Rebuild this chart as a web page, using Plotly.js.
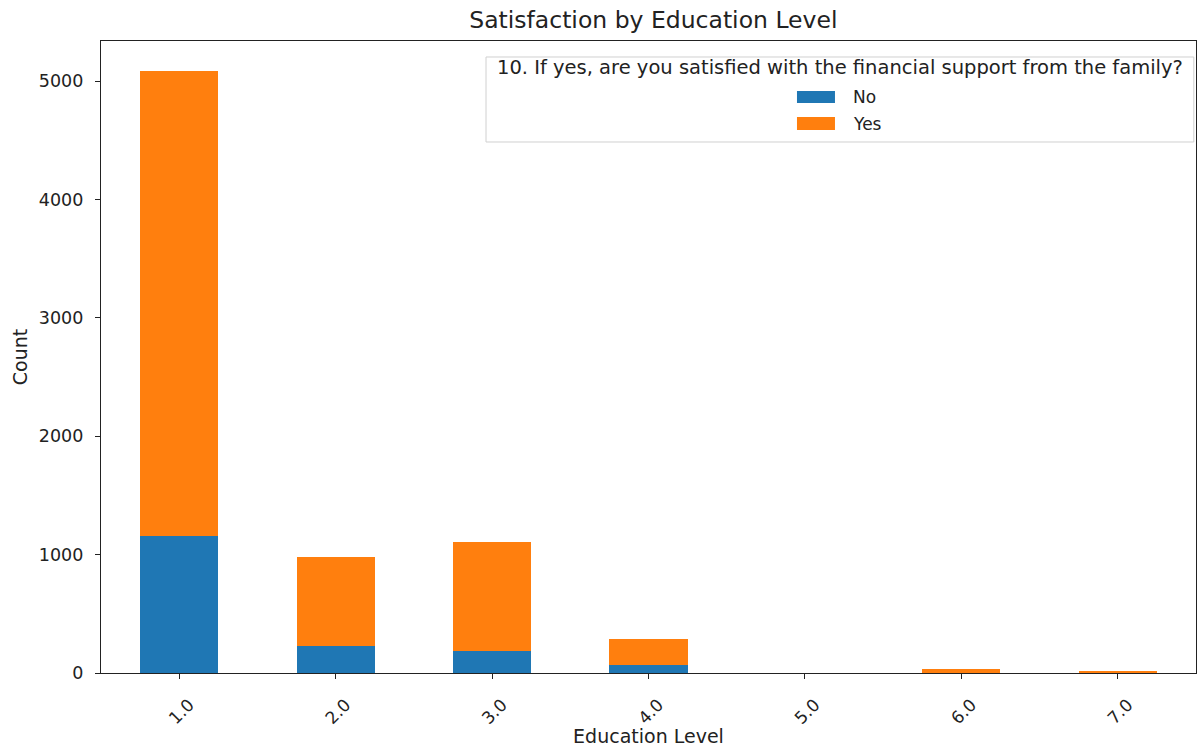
<!DOCTYPE html>
<html>
<head>
<meta charset="utf-8">
<script src="https://cdn.plot.ly/plotly-3.0.1.min.js"></script>
<style>html,body{margin:0;padding:0;background:#fff;}#chart{width:1201px;height:747px;}</style>
</head>
<body>
<div id="chart"></div>
<script>
const categories = ['1.0', '2.0', '3.0', '4.0', '5.0', '6.0', '7.0'];
const noValues = [1158, 228, 186, 68, 0, 4, 2];
const yesValues = [3926, 752, 920, 219, 1, 30, 15];
const seriesNames = ['No', 'Yes'];
const seriesColors = ['#1f77b4', '#ff7f0e'];
const legendTitle = '10. If yes, are you satisfied with the financial support from the family?';
const yTicks = [0, 1000, 2000, 3000, 4000, 5000];

const font = 'DejaVu Sans, sans-serif';
const ink = '#222';
const traces = [
  {type: 'bar', name: seriesNames[0], x: categories, y: noValues, marker: {color: seriesColors[0], line: {width: 0}}, width: 0.5},
  {type: 'bar', name: seriesNames[1], x: categories, y: yesValues, marker: {color: seriesColors[1], line: {width: 0}}, width: 0.5}
];

// legend drawn with shapes/annotations in paper coordinates (matplotlib-style box)
const legendShapes = [
  {type: 'rect', xref: 'paper', yref: 'paper', x0: 0.3516, x1: 0.998, y0: 0.8402, y1: 0.9747,
   line: {color: '#d0d0d0', width: 1}, fillcolor: 'rgba(255,255,255,0.8)', layer: 'above'},
  {type: 'rect', xref: 'paper', yref: 'paper', x0: 0.6356, x1: 0.6703, y0: 0.9019, y1: 0.9209,
   line: {width: 0}, fillcolor: seriesColors[0], layer: 'above'},
  {type: 'rect', xref: 'paper', yref: 'paper', x0: 0.6356, x1: 0.6703, y0: 0.8592, y1: 0.8797,
   line: {width: 0}, fillcolor: seriesColors[1], layer: 'above'}
];
const legendAnnotations = [
  {xref: 'paper', yref: 'paper', x: 0.6749, y: 0.9573, xanchor: 'center', yanchor: 'middle', showarrow: false,
   text: legendTitle, font: {family: font, size: 19.5, color: ink}},
  {xref: 'paper', yref: 'paper', x: 0.6850, y: 0.9114, xanchor: 'left', yanchor: 'middle', showarrow: false,
   text: seriesNames[0], font: {family: font, size: 17, color: ink}},
  {xref: 'paper', yref: 'paper', x: 0.6850, y: 0.8687, xanchor: 'left', yanchor: 'middle', showarrow: false,
   text: seriesNames[1], font: {family: font, size: 17, color: ink}}
];

const layout = {
  width: 1201, height: 747,
  barmode: 'stack',
  showlegend: false,
  margin: {l: 101, r: 5, t: 41, b: 74},
  paper_bgcolor: '#fff', plot_bgcolor: '#fff',
  font: {family: font, size: 17, color: ink},
  title: {text: 'Satisfaction by Education Level', font: {family: font, size: 23.5, color: ink},
          x: 0.544, xanchor: 'center', y: 0.973, yanchor: 'middle'},
  xaxis: {
    type: 'category', range: [-0.5, 6.5], tickangle: -45,
    showline: true, linecolor: ink, linewidth: 1.2, mirror: true,
    ticks: 'outside', ticklen: 5, tickcolor: ink, showgrid: false, zeroline: false,
    ticklabelstandoff: 9, ticklabelshift: 10,
    tickfont: {family: font, size: 17, color: ink},
    title: {text: 'Education Level', font: {family: font, size: 19, color: ink}, standoff: 1}
  },
  yaxis: {
    range: [0, 5338], tickvals: yTicks, ticktext: yTicks.map(String),
    showline: true, linecolor: ink, linewidth: 1.2, mirror: true,
    ticks: 'outside', ticklen: 5, tickcolor: ink, showgrid: false, zeroline: false,
    ticklabelstandoff: 8,
    tickfont: {family: font, size: 17.5, color: ink},
    title: {text: 'Count', font: {family: font, size: 19, color: ink}, standoff: 6}
  },
  shapes: legendShapes,
  annotations: legendAnnotations
};
Plotly.newPlot('chart', traces, layout, {staticPlot: true, displayModeBar: false});
</script>
</body>
</html>
